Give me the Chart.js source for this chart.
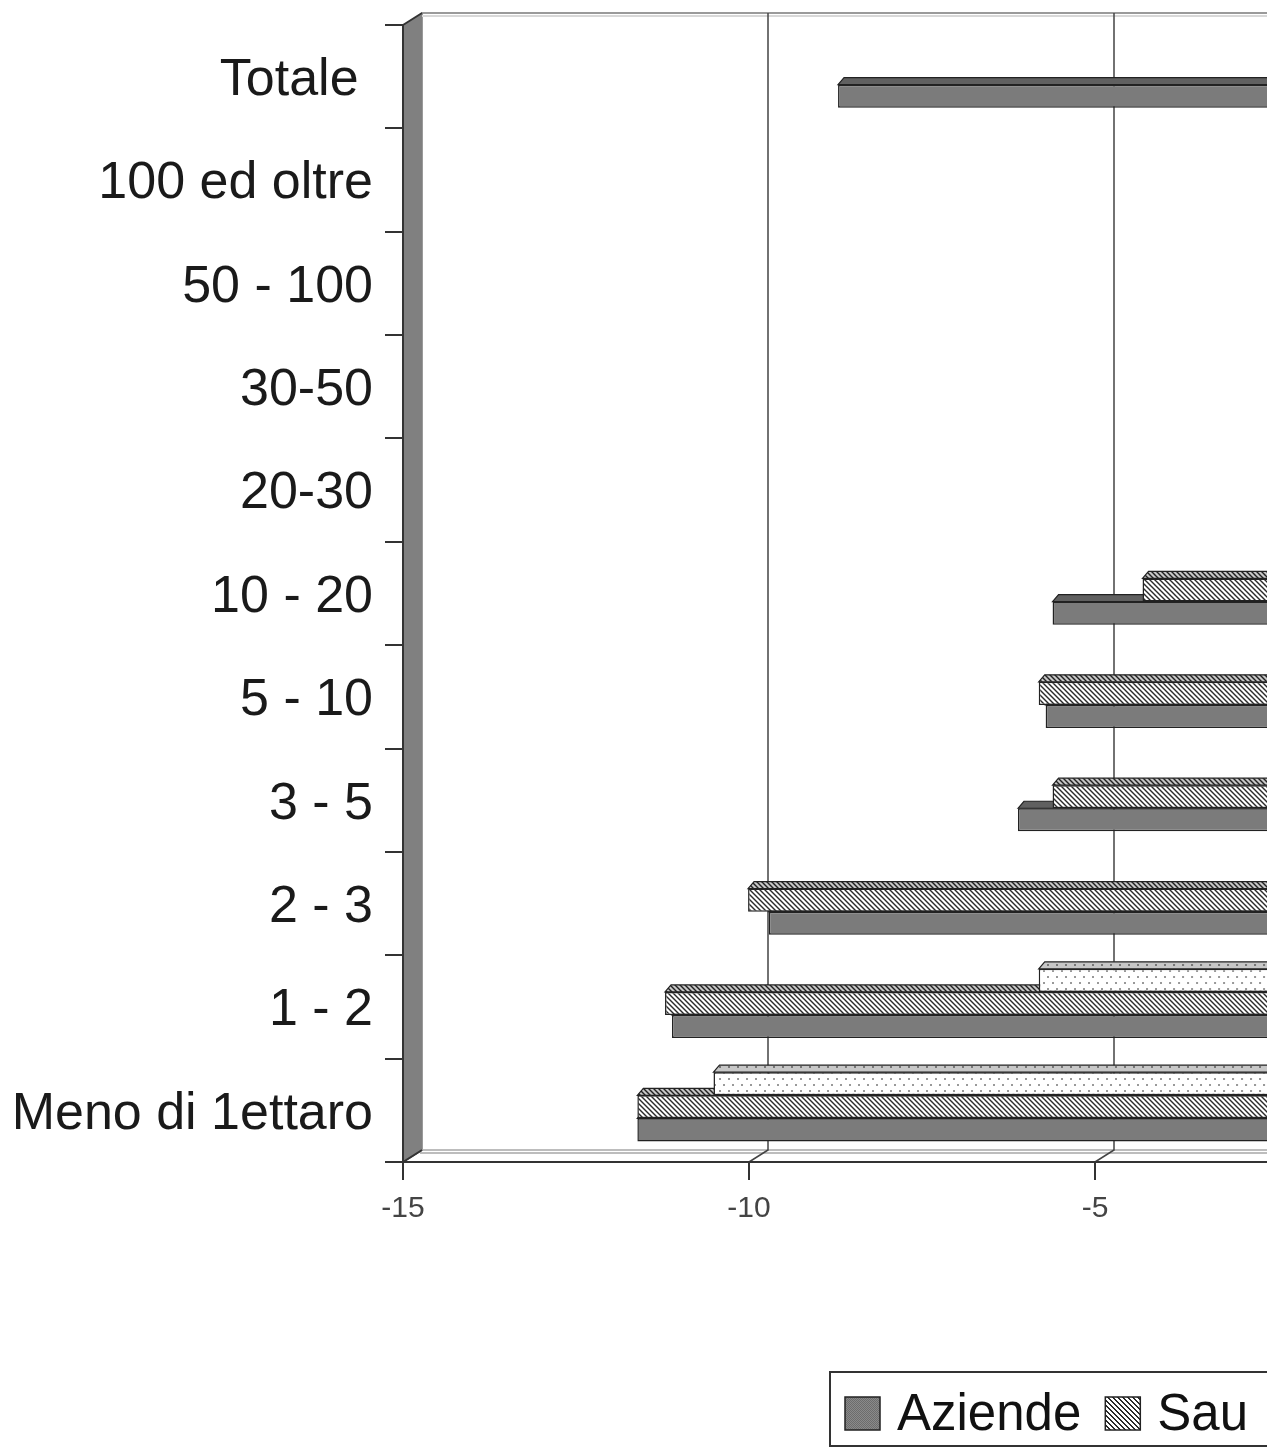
<!DOCTYPE html>
<html>
<head>
<meta charset="utf-8">
<title>Variazione per classi di superficie</title>
<script src="https://cdn.jsdelivr.net/npm/chart.js@4.4.0/dist/chart.umd.min.js"></script>
<style>
  html, body { margin: 0; padding: 0; overflow: hidden; background: #fff; }
  #wrap { width: 1827px; height: 1448px; }
</style>
</head>
<body>
<div id="wrap"><canvas id="grafico" width="1827" height="1448"></canvas></div>
<script>
// dati (la parte destra e' tagliata, i valori nascosti sono stimati)
const categorie = ['Totale ', '100 ed oltre', '50 - 100', '30-50', '20-30', '10 - 20', '5 - 10', '3 - 5', '2 - 3', '1 - 2', 'Meno di 1ettaro'];
const aziende = [-8.8, 3.0, 1.5, -0.5, -1.2, -5.7, -5.8, -6.2, -9.8, -11.2, -11.7];
const sau = [-2.0, 4.0, 2.5, 1.0, -0.8, -4.4, -5.9, -5.7, -10.1, -11.3, -11.7];
const sat = [-1.5, 3.5, 2.0, 0.5, -0.6, -1.8, -2.2, -2.0, -1.6, -5.9, -10.6];
const tickX = [-15, -10, -5, 0, 5];

const FONT = '"Liberation Sans", Arial, sans-serif';
const PROF = { dx: 19, dy: 12 };     // profondita' delle pareti
const BARRA = { dx: 6, dy: 7 };      // spessore 3D delle barre
const SPOST = { dx: 6, dy: -3.5 };   // barre a meta' profondita'

function creaPattern(w, h, disegna) {
  const c = document.createElement('canvas');
  c.width = w; c.height = h;
  const g = c.getContext('2d');
  disegna(g);
  return g.createPattern(c, 'repeat');
}

const pAziende = creaPattern(2, 2, g => {
  g.fillStyle = '#8a8a8a'; g.fillRect(0, 0, 2, 2);
  g.fillStyle = '#6c6c6c'; g.fillRect(0, 0, 1, 1); g.fillRect(1, 1, 1, 1);
});
const pSau = creaPattern(5, 5, g => {
  g.fillStyle = '#fff'; g.fillRect(0, 0, 5, 5);
  g.fillStyle = '#2a2a2a';
  for (let y = 0; y < 5; y++) for (let x = 0; x < 5; x++) {
    const d = ((x - y) % 5 + 5) % 5;
    if (d === 0 || d === 1) g.fillRect(x, y, 1, 1);
  }
});
const pSat = creaPattern(9, 12, g => {
  g.fillStyle = '#fff'; g.fillRect(0, 0, 9, 12);
  g.fillStyle = '#333';
  g.fillRect(2, 2, 2, 1); g.fillRect(6, 8, 2, 1);
});

const serie = [
  { label: 'Sat', data: sat, bg: pSat },
  { label: 'Sau', data: sau, bg: pSau },
  { label: 'Aziende', data: aziende, bg: pAziende }
];
const ordineLegenda = ['Aziende', 'Sau', 'Sat'];

// pareti, pavimento e griglia sul fondo
const scena3d = {
  id: 'scena3d',
  beforeDraw(chart) {
    const { ctx, chartArea: a } = chart;
    const { dx, dy } = PROF;
    ctx.save();
    // parete di fondo
    ctx.strokeStyle = '#9a9a9a';
    ctx.lineWidth = 2;
    ctx.beginPath();
    ctx.moveTo(a.left + dx, a.bottom - dy);
    ctx.lineTo(a.left + dx, a.top - dy);
    ctx.lineTo(a.right + dx, a.top - dy);
    ctx.stroke();
    ctx.strokeStyle = '#d8d8d8';
    ctx.beginPath();
    ctx.moveTo(a.left + dx, a.top - dy + 3);
    ctx.lineTo(a.right + dx, a.top - dy + 3);
    ctx.stroke();
    // pavimento
    ctx.strokeStyle = '#a8a8a8';
    ctx.lineWidth = 1.5;
    ctx.beginPath();
    ctx.moveTo(a.left + dx, a.bottom - dy);
    ctx.lineTo(a.right + dx, a.bottom - dy);
    ctx.moveTo(a.left + dx - 2, a.bottom - dy + 3);
    ctx.lineTo(a.right + dx, a.bottom - dy + 3);
    ctx.stroke();
    // griglia verticale
    const sx = chart.scales.x;
    ctx.strokeStyle = '#444';
    ctx.lineWidth = 1.5;
    sx.ticks.forEach(t => {
      const x = sx.getPixelForValue(t.value);
      ctx.beginPath();
      ctx.moveTo(x, a.bottom);
      ctx.lineTo(x + dx, a.bottom - dy);
      if (t.value !== sx.min) ctx.lineTo(x + dx, a.top - dy);
      ctx.stroke();
    });
    // parete sinistra
    ctx.fillStyle = '#808080';
    ctx.beginPath();
    ctx.moveTo(a.left, a.top);
    ctx.lineTo(a.left + dx, a.top - dy);
    ctx.lineTo(a.left + dx, a.bottom - dy);
    ctx.lineTo(a.left, a.bottom);
    ctx.closePath();
    ctx.fill();
    ctx.strokeStyle = '#333';
    ctx.lineWidth = 2;
    ctx.beginPath();
    ctx.moveTo(a.left, a.top);
    ctx.lineTo(a.left + dx, a.top - dy);
    ctx.moveTo(a.left, a.bottom);
    ctx.lineTo(a.left + dx, a.bottom - dy);
    ctx.stroke();
    ctx.restore();
  },
  beforeDatasetsDraw(chart) {
    const ctx = chart.ctx;
    ctx.save();
    ctx.translate(SPOST.dx, SPOST.dy);
    // facce superiori delle barre
    chart.data.datasets.forEach((ds, i) => {
      chart.getDatasetMeta(i).data.forEach(el => {
        const p = el.getProps(['x', 'y', 'base', 'height'], true);
        const l = Math.min(p.x, p.base), r = Math.max(p.x, p.base);
        const top = p.y - p.height / 2;
        ctx.beginPath();
        ctx.moveTo(l, top);
        ctx.lineTo(l + BARRA.dx, top - BARRA.dy);
        ctx.lineTo(r + BARRA.dx, top - BARRA.dy);
        ctx.lineTo(r, top);
        ctx.closePath();
        ctx.fillStyle = ds.backgroundColor;
        ctx.fill();
        ctx.fillStyle = 'rgba(0,0,0,0.22)';
        ctx.fill();
        ctx.strokeStyle = '#222';
        ctx.lineWidth = 1.2;
        ctx.stroke();
      });
    });
  },
  afterDatasetsDraw(chart) {
    chart.ctx.restore();
  },
  afterDraw(chart) {
    // legenda con cornice
    const ctx = chart.ctx;
    ctx.save();
    ctx.font = '51px ' + FONT;
    const L = { x: 830, y: 1372, h: 74, q: 35, qh: 33 };
    const voci = ordineLegenda.map(n => chart.data.datasets.find(d => d.label === n));
    let w = 15;
    voci.forEach((v, i) => { w += L.q + 17 + ctx.measureText(v.label).width + (i < voci.length - 1 ? 24 : 15); });
    ctx.fillStyle = '#fff';
    ctx.fillRect(L.x, L.y, w, L.h);
    ctx.strokeStyle = '#333';
    ctx.lineWidth = 2;
    ctx.strokeRect(L.x, L.y, w, L.h);
    let x = L.x + 15;
    voci.forEach(v => {
      const qy = L.y + 25;
      ctx.fillStyle = v.backgroundColor;
      ctx.fillRect(x, qy, L.q, L.qh);
      ctx.strokeStyle = '#222';
      ctx.lineWidth = 1.5;
      ctx.strokeRect(x, qy, L.q, L.qh);
      x += L.q + 17;
      ctx.fillStyle = '#111';
      ctx.textBaseline = 'alphabetic';
      ctx.fillText(v.label, x, L.y + 58);
      x += ctx.measureText(v.label).width + 24;
    });
    ctx.restore();
  }
};

new Chart(document.getElementById('grafico'), {
  type: 'bar',
  data: {
    labels: categorie,
    datasets: serie.map(s => ({
      label: s.label,
      data: s.data,
      backgroundColor: s.bg,
      borderColor: '#222',
      borderWidth: 1.5,
      borderSkipped: false,
      categoryPercentage: 0.67,
      barPercentage: 1.0,
      clip: false
    }))
  },
  options: {
    indexAxis: 'y',
    responsive: false,
    animation: false,
    devicePixelRatio: 1,
    layout: { padding: { top: 25, right: 40, bottom: 0, left: 0 } },
    plugins: { legend: { display: false }, tooltip: { enabled: false } },
    scales: {
      x: {
        min: -15,
        max: 5,
        afterBuildTicks: s => { s.ticks = tickX.map(v => ({ value: v })); },
        afterFit: s => { s.height = 286; s.paddingLeft = 0; s.paddingRight = 0; },
        grid: { drawOnChartArea: false, drawTicks: true, tickLength: 18, color: '#333', lineWidth: 2 },
        border: { display: true, color: '#333', width: 2 },
        ticks: { font: { size: 30, family: FONT }, color: '#444', padding: 11 }
      },
      y: {
        afterFit: s => { s.width = 403; s.paddingTop = 0; s.paddingBottom = 0; },
        grid: { drawOnChartArea: false, drawTicks: true, tickLength: 18, color: '#333', lineWidth: 2 },
        border: { display: true, color: '#333', width: 2 },
        ticks: { font: { size: 52, family: FONT }, color: '#1a1a1a', padding: 12, labelOffset: 4 }
      }
    }
  },
  plugins: [scena3d]
});
</script>
</body>
</html>
